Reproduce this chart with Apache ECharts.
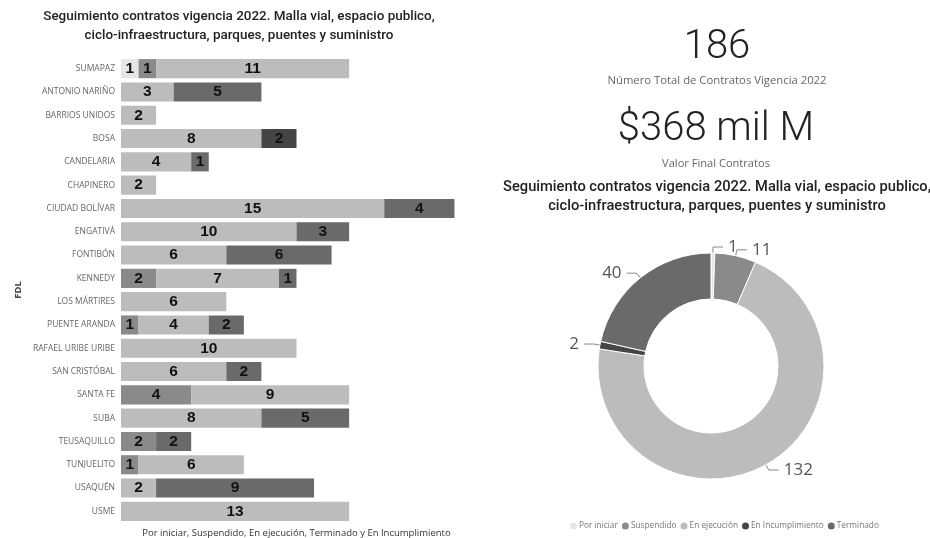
<!DOCTYPE html>
<html>
<head>
<meta charset="utf-8">
<script src="https://cdn.jsdelivr.net/npm/echarts@6/dist/echarts.min.js"></script>
<style>
  html, body { margin: 0; padding: 0; background: #fff; }
  #chart { width: 930px; height: 538px; }
</style>
</head>
<body>
<div id="chart"></div>
<script>
// Localidades (FDL), top to bottom
const localidades = [
  'SUMAPAZ', 'ANTONIO NARIÑO', 'BARRIOS UNIDOS', 'BOSA', 'CANDELARIA',
  'CHAPINERO', 'CIUDAD BOLÍVAR', 'ENGATIVÁ', 'FONTIBÓN', 'KENNEDY',
  'LOS MÁRTIRES', 'PUENTE ARANDA', 'RAFAEL URIBE URIBE', 'SAN CRISTÓBAL', 'SANTA FE',
  'SUBA', 'TEUSAQUILLO', 'TUNJUELITO', 'USAQUÉN', 'USME'
];

// Contracts per state and locality
const porIniciar       = [1, 0, 0, 0, 0, 0, 0, 0, 0, 0, 0, 0, 0, 0, 0, 0, 0, 0, 0, 0];
const suspendido       = [1, 0, 0, 0, 0, 0, 0, 0, 0, 2, 0, 1, 0, 0, 4, 0, 2, 1, 0, 0];
const enEjecucion      = [11, 3, 2, 8, 4, 2, 15, 10, 6, 7, 6, 4, 10, 6, 9, 8, 0, 6, 2, 13];
const enIncumplimiento = [0, 0, 0, 2, 0, 0, 0, 0, 0, 0, 0, 0, 0, 0, 0, 0, 0, 0, 0, 0];
const terminado        = [0, 5, 0, 0, 1, 0, 4, 3, 6, 1, 0, 2, 0, 2, 0, 5, 2, 0, 9, 0];

// Totals per state (donut)
const estados = ['Por iniciar', 'Suspendido', 'En ejecución', 'En Incumplimiento', 'Terminado'];
const totalesEstado = [1, 11, 132, 2, 40];

const coloresEstado = ['#e6e6e6', '#8a8a8a', '#bcbcbc', '#454545', '#6a6a6a'];

const totalContratos = '186';
const valorFinal = '$368 mil M';
const tituloTexto = 'Seguimiento contratos vigencia 2022. Malla vial, espacio publico,\nciclo-infraestructura, parques, puentes y suministro';

const chart = echarts.init(document.getElementById('chart'), null, { renderer: 'canvas' });

const barSeriesData = [porIniciar, suspendido, enEjecucion, enIncumplimiento, terminado];

const barSeries = estados.map((name, i) => ({
  name: name,
  type: 'bar',
  stack: 'total',
  barWidth: '82%',
  itemStyle: { color: coloresEstado[i] },
  label: {
    show: true,
    position: 'inside',
    color: '#111',
    fontFamily: 'Liberation Sans',
    fontWeight: 'bold',
    fontSize: 15.5,
    formatter: p => (p.value > 0 ? String(p.value) : '')
  },
  emphasis: { disabled: true },
  data: barSeriesData[i]
}));

function titleFont(size) {
  return {
    fontFamily: 'Roboto',
    fontWeight: 500,
    fontSize: size,
    color: '#222',
    lineHeight: size * 1.35
  };
}

const option = {
  animation: false,
  backgroundColor: '#fff',
  title: [
    { text: tituloTexto, left: 234, top: 3, textAlign: 'center', textStyle: titleFont(13.45) },
    { text: tituloTexto, left: 712, top: 172, textAlign: 'center', textStyle: titleFont(14.7) },
    { text: totalContratos, left: 712, top: 23, textAlign: 'center',
      textStyle: { fontFamily: 'Roboto', fontWeight: 300, fontSize: 40, color: '#222' } },
    { text: 'Número Total de Contratos Vigencia 2022', left: 712, top: 70, textAlign: 'center',
      textStyle: { fontFamily: 'Open Sans', fontWeight: 400, fontSize: 11.3, color: '#666' } },
    { text: valorFinal, left: 711, top: 105, textAlign: 'center',
      textStyle: { fontFamily: 'Roboto', fontWeight: 300, fontSize: 40, color: '#222' } },
    { text: 'Valor Final Contratos', left: 711, top: 153, textAlign: 'center',
      textStyle: { fontFamily: 'Open Sans', fontWeight: 400, fontSize: 11.1, color: '#666' } }
  ],
  legend: {
    data: estados,
    left: 565,
    top: 517,
    icon: 'circle',
    itemWidth: 7,
    itemHeight: 7,
    itemGap: 4,
    textStyle: { fontFamily: 'Open Sans', fontSize: 8.3, color: '#777', padding: [0, 0, 0, -3] },
    selectedMode: false
  },
  grid: {
    left: 121, top: 57, width: 351, height: 466,
    containLabel: false,
    outerBoundsMode: 'none'
  },
  xAxis: {
    type: 'value',
    min: 0,
    max: 20,
    name: 'Por iniciar, Suspendido, En ejecución, Terminado y En Incumplimiento',
    nameLocation: 'middle',
    nameGap: 5,
    nameTextStyle: { fontFamily: 'Open Sans', fontSize: 9.5, color: '#333', verticalAlign: 'top' },
    axisLine: { show: false },
    axisTick: { show: false },
    axisLabel: { show: false },
    splitLine: { show: false }
  },
  yAxis: {
    type: 'category',
    data: localidades,
    inverse: true,
    name: 'FDL',
    nameLocation: 'middle',
    nameGap: 98,
    nameRotate: 90,
    nameTextStyle: { fontFamily: 'Open Sans', fontSize: 9.5, fontWeight: 'bold', color: '#444' },
    axisLine: { show: false },
    axisTick: { show: false },
    axisLabel: { fontFamily: 'Open Sans', fontSize: 8.5, color: '#666', margin: 6 }
  },
  series: [
    ...barSeries,
    {
      name: 'Estado',
      type: 'pie',
      center: [711, 366],
      radius: [67, 113],
      startAngle: 90,
      clockwise: true,
      avoidLabelOverlap: false,
      itemStyle: { borderColor: '#fff', borderWidth: 1 },
      label: {
        show: true,
        formatter: '{c}',
        fontFamily: 'Open Sans',
        fontSize: 17,
        color: '#555'
      },
      labelLine: { show: true, length: 6, length2: 10, lineStyle: { color: '#888', width: 1 } },
      emphasis: { disabled: true },
      data: estados.map((name, i) => ({
        name: name,
        value: totalesEstado[i],
        itemStyle: { color: coloresEstado[i] }
      }))
    }
  ]
};

chart.setOption(option);
</script>
</body>
</html>
